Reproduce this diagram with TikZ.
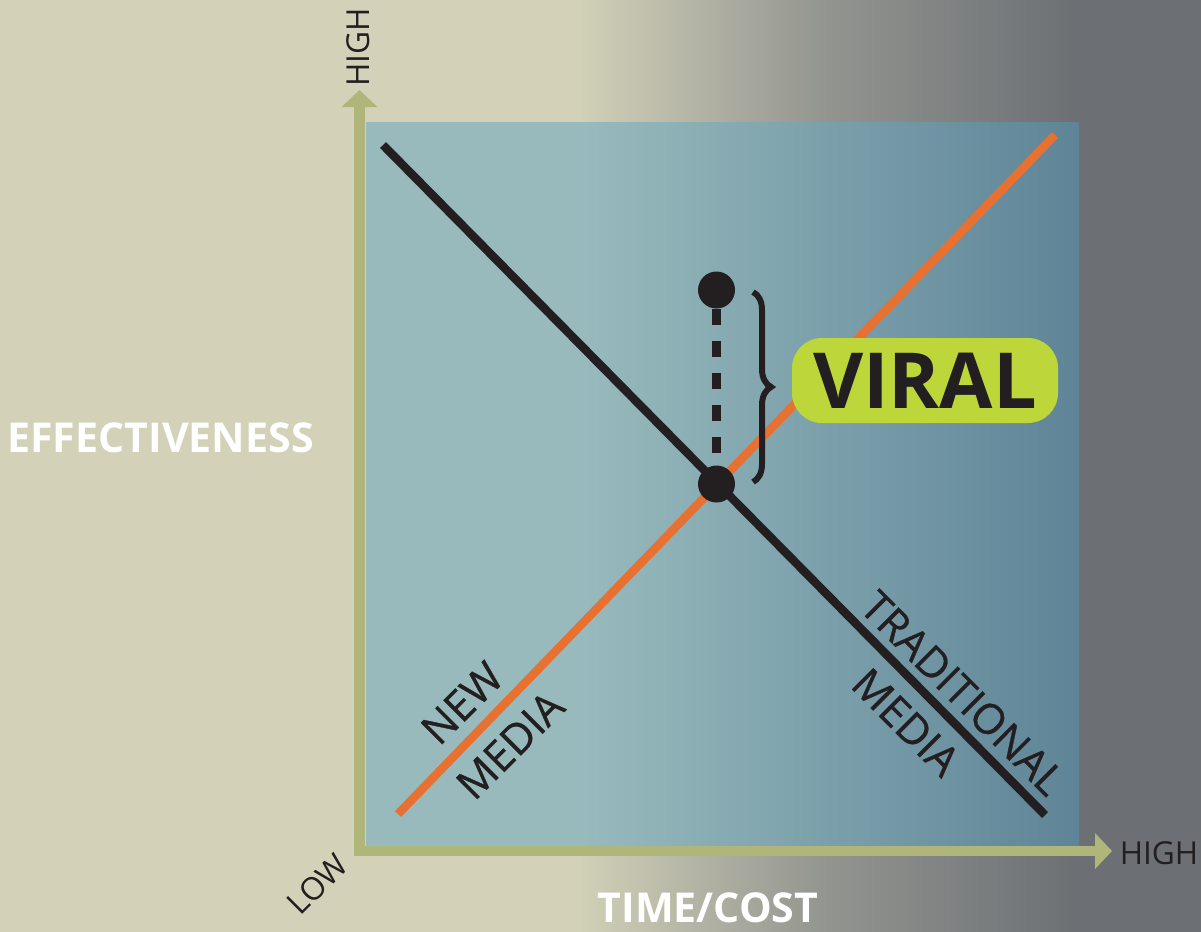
\documentclass[tikz,border=0pt]{standalone}
\usepackage{fontspec}
\setmainfont{Open Sans}
\newfontfamily\medialabelfont[FakeBold=0.7]{Open Sans}
\usepackage{tikz}
\usetikzlibrary{arrows,arrows.meta}
\usetikzlibrary{calc,decorations.pathreplacing}
\definecolor{sand}{RGB}{211,210,185}
\definecolor{slate}{RGB}{108,112,116}
\definecolor{slatemid}{RGB}{147,149,144}
\definecolor{lagoon}{RGB}{152,186,189}
\definecolor{lagoondark}{RGB}{94,132,151}
\definecolor{axisgreen}{RGB}{176,182,122}
\definecolor{ink}{RGB}{35,31,32}
\definecolor{carrot}{RGB}{232,112,48}
\definecolor{viralgreen}{RGB}{189,214,58}

\begin{document}
\begin{tikzpicture}[x=0.1mm, y=-0.1mm,
    axisline/.style={line width=3.1pt, axisgreen, line join=miter},
    medialine/.style={line width=2.4pt},
    dot/.style={circle, fill=ink, minimum size=3.7mm, inner sep=0pt},
    axislabel/.style={ink, inner sep=0pt, font=\fontsize{9}{11}\selectfont},
    titlelabel/.style={white, inner sep=0pt, font=\bfseries\fontsize{11.7}{14}\selectfont},
    medialabel/.style={ink, inner sep=0pt, font=\medialabelfont\fontsize{12}{14}\selectfont},
    viralbox/.style={fill=viralgreen, rounded corners=3mm, minimum width=26.6mm, minimum height=8.5mm, inner sep=0pt, text=ink, font=\bfseries\fontsize{22}{26}\selectfont}]

    \useasboundingbox (0,0) rectangle (1201,931);

    % background, sand fading to slate
    \shade[left color=slate, right color=slate] (1000,0) rectangle (1201,931);
    \shade[left color=sand, right color=sand] (0,0) rectangle (600,931);
    \shade[left color=sand, right color=slatemid] (572,0) rectangle (823,931);
    \shade[left color=slatemid, right color=slate] (822,0) rectangle (1077,931);

    % plot area
    \shade[left color=lagoon, right color=lagoon] (366,122) rectangle (600,846);
    \shade[left color=lagoon, right color=lagoondark] (584,122) rectangle (1079,846);

    % axes
    \coordinate (ytip) at (359.5,90);
    \coordinate (xtip) at (1112,851);
    \draw[axisline, {Triangle[width=3.5mm,length=1.7mm]}-{Triangle[width=3.5mm,length=1.7mm]}] (ytip) |- (xtip);

    \node[axislabel, rotate=90] (yhigh) at (358.5,47.5) {HIGH};
    \node[axislabel] (xhigh) at (1159,853.5) {HIGH};
    \node[axislabel, rotate=45] (low) at (317.5,884) {LOW};
    \node[titlelabel] (yname) at (160.5,438) {EFFECTIVENESS};
    \node[titlelabel] (xname) at (708,908) {TIME/COST};

    % the two media lines
    \coordinate (newstart) at (398,814);
    \coordinate (newend) at (1055,135);
    \coordinate (tradstart) at (383,145);
    \coordinate (tradend) at (1045,815);
    \draw[medialine, carrot] (newstart) -- (newend);
    \draw[medialine, ink] (tradstart) -- (tradend);

    \node[medialabel, rotate=45] (newa) at (462,703) {NEW};
    \node[medialabel, rotate=45] (newb) at (510,745) {MEDIA};
    \node[medialabel, rotate=-45] (trada) at (963,693) {TRADITIONAL};
    \node[medialabel, rotate=-45] (tradb) at (906,722) {MEDIA};

    % gap between crossing and peak
    \node[dot] (crossing) at (716.5,484) {};
    \node[dot] (peak) at (716.5,290) {};
    \draw[ink, line width=2.3pt, dash pattern=on 1.6mm off 1.6mm] (peak) -- (crossing);

    \coordinate (bracetop) at (753,292);
    \coordinate (bracebot) at (753,482);
    \draw[ink, line width=1.7pt, decorate, decoration={brace, amplitude=1.8mm}] (bracetop) -- (bracebot);

    \node[viralbox] (viral) at (925,380.5) {VIRAL};

\end{tikzpicture}
\end{document}
